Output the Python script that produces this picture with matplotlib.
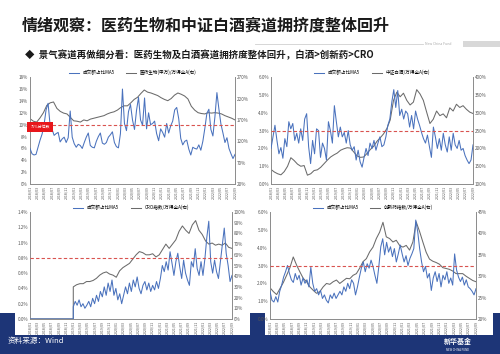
import numpy as np
import matplotlib.pyplot as plt
from matplotlib.patches import Rectangle

plt.rcParams['font.family'] = ['Noto Sans CJK SC', 'DejaVu Sans']
plt.rcParams['axes.unicode_minus'] = False

# ============================================================
# DATA (2018/01 - 2022/09)
# ============================================================

n_months = 56
tick_months = list(range(0, n_months + 1, 2))
tick_labels = [f"{2018 + m // 12}/{m % 12 + 1:02d}" for m in tick_months]

# 医药生物: turnover share MA5 (left, %) and relative index (right, %)
med_share = [6.0, 5.1, 4.9, 5.0, 6.2, 7.4, 8.4, 10.0, 12.5, 13.6, 9.9, 9.2, 8.2, 8.5,
             8.7, 7.1, 7.6, 7.9, 7.0, 7.8, 12.3, 7.9, 6.8, 6.2, 6.7, 6.5, 6.0, 7.0,
             7.9, 8.6, 6.5, 6.2, 6.1, 7.2, 8.0, 8.6, 6.9, 6.7, 7.0, 7.9, 8.3, 8.8,
             7.0, 6.3, 6.1, 8.5, 16.0, 10.2, 9.0, 12.2, 13.4, 10.8, 9.2, 12.4, 14.6,
             10.8, 9.9, 14.5, 9.3, 12.0, 10.0, 10.2, 10.6, 8.5, 7.3, 9.3, 8.7, 7.9,
             10.2, 8.6, 9.8, 10.6, 12.5, 12.9, 11.0, 7.7, 6.6, 7.2, 7.4, 5.9, 4.9,
             6.2, 6.0, 5.9, 6.6, 5.7, 7.2, 9.4, 11.9, 12.6, 9.2, 8.1, 11.3, 15.4,
             12.6, 10.1, 8.6, 7.0, 7.8, 6.0, 5.1, 4.3, 5.0]
med_rel = [173, 167, 165, 175, 187, 204, 210, 212, 197, 190, 186, 184, 176, 168, 167,
           165, 170, 168, 172, 174, 176, 178, 180, 184, 187, 189, 193, 199, 203, 203,
           210, 218, 223, 232, 240, 235, 233, 230, 227, 222, 218, 215, 220, 228, 233,
           230, 226, 219, 202, 193, 187, 185, 184, 187, 186, 187, 186, 184, 180, 177,
           174, 170]

# 中证白酒
liquor_share = [2.0, 2.65, 3.3, 2.45, 1.7, 2.05, 1.45, 2.55, 2.1, 3.5, 3.1, 3.4, 2.45,
                2.85, 2.3, 3.1, 2.45, 3.65, 3.95, 2.1, 1.15, 2.45, 1.7, 3.1, 3.0, 1.5,
                2.3, 2.0, 1.35, 3.5, 3.0, 2.3, 4.4, 3.5, 2.65, 3.2, 2.65, 2.9, 2.3, 3.0,
                2.2, 1.9, 2.1, 1.35, 1.9, 1.25, 0.95, 1.5, 2.0, 1.6, 2.3, 2.0, 2.45,
                1.9, 2.3, 2.65, 2.1, 2.2, 2.65, 3.3, 3.65, 4.6, 5.3, 4.3, 5.25, 3.85,
                4.2, 3.65, 4.1, 3.95, 3.2, 3.85, 3.1, 4.1, 3.65, 3.3, 2.9, 2.55, 2.3,
                2.75, 2.1, 1.5, 3.2, 2.65, 2.0, 2.55, 1.9, 2.85, 2.2, 1.8, 2.65, 1.9,
                2.85, 2.2, 2.0, 2.45, 1.9, 2.0, 1.6, 1.35, 1.15, 1.35, 2.2]
liquor_rel = [141, 134, 129, 126, 135, 150, 174, 166, 156, 150, 152, 125, 129, 138, 140,
              147, 157, 167, 176, 182, 187, 195, 199, 202, 201, 190, 179, 175, 176, 186,
              197, 206, 220, 230, 241, 256, 280, 335, 358, 345, 355, 335, 322, 330, 365,
              353, 335, 302, 270, 282, 305, 292, 297, 286, 314, 305, 324, 315, 320, 310,
              302, 298]

# CRO (index starts 2019/01)
cro_start = 12
cro_share = [0.16, 0.23, 0.18, 0.25, 0.16, 0.20, 0.14, 0.18, 0.23, 0.16, 0.27, 0.20,
             0.31, 0.23, 0.36, 0.29, 0.42, 0.31, 0.47, 0.36, 0.51, 0.31, 0.40, 0.25,
             0.33, 0.20, 0.31, 0.42, 0.33, 0.47, 0.36, 0.51, 0.42, 0.55, 0.40, 0.33,
             0.44, 0.49, 0.38, 0.47, 0.36, 0.44, 0.38, 0.49, 0.40, 0.53, 0.70, 0.62,
             0.75, 0.64, 0.88, 0.73, 0.57, 0.75, 0.86, 0.68, 0.53, 0.77, 0.60, 0.51,
             0.44, 0.75, 0.68, 0.92, 0.66, 0.57, 0.75, 0.57, 0.79, 1.07, 1.28, 0.75,
             0.60, 0.77, 0.62, 0.53, 0.75, 0.97, 1.19, 0.86, 0.70, 0.49, 0.57]
cro_rel = [30, 32, 33, 33, 35, 35, 36, 38, 41, 43, 44, 42, 41, 39, 45, 48, 50, 52, 56,
           60, 63, 62, 60, 60, 61, 58, 60, 65, 70, 66, 70, 74, 82, 87, 83, 80, 88, 92,
           83, 79, 73, 70, 71, 69, 70, 69, 71, 67, 66]

# 创新药
innov_share = [1.55, 1.05, 0.95, 1.25, 0.95, 1.55, 1.9, 2.35, 2.65, 3.0, 2.55, 2.2, 2.05,
               2.55, 2.2, 2.45, 1.9, 2.3, 2.0, 2.2, 1.8, 2.9, 2.0, 1.55, 1.7, 1.35, 1.6,
               1.15, 1.35, 1.05, 0.9, 1.35, 1.15, 1.45, 1.15, 1.35, 1.55, 1.35, 1.8,
               1.55, 2.0, 1.7, 2.2, 2.0, 1.35, 1.8, 2.35, 2.85, 3.2, 2.65, 3.1, 2.85,
               3.3, 2.95, 2.45, 2.0, 2.95, 4.05, 4.5, 3.6, 4.3, 3.75, 4.05, 3.5, 3.95,
               3.2, 3.65, 4.15, 3.65, 3.2, 3.55, 3.0, 3.4, 3.65, 3.95, 5.55, 4.9, 3.95,
               3.2, 2.65, 2.95, 2.3, 2.55, 1.6, 2.3, 2.65, 2.1, 2.55, 1.8, 2.45, 2.2,
               2.65, 2.0, 2.3, 1.9, 3.65, 2.75, 2.35, 2.1, 2.35, 1.9, 2.2, 1.8, 1.7,
               1.55, 1.35, 1.7]
innov_rel = [27.3, 26.4, 25.7, 27.1, 28.5, 30.2, 32.0, 34.5, 32.6, 31.0, 29.5, 28.7,
             27.5, 26.7, 26.0, 26.4, 27.5, 28.3, 28.1, 28.7, 29.1, 28.3, 28.9, 29.5,
             29.4, 30.2, 30.6, 31.9, 33.4, 34.1, 35.7, 36.8, 38.8, 40.3, 42.6, 39.2,
             38.8, 38.0, 38.4, 37.2, 36.8, 37.2, 36.1, 38.0, 42.7, 40.5, 38.0, 35.6,
             34.0, 33.5, 33.2, 32.8, 32.0, 31.8, 31.6, 31.2, 30.6, 30.6, 30.6, 30.0,
             29.5, 29.0, 28.7]

share_label = "成交额占比MA5"

# ============================================================
# FIGURE / BACKGROUND
# ============================================================

fig = plt.figure(figsize=(5, 3.54), dpi=100)
fig.patch.set_facecolor('white')

fig.patches.append(Rectangle((0, 0), 1, 0.116, transform=fig.transFigure,
                             facecolor='#1d3577', edgecolor='none', zorder=0))
fig.patches.append(Rectangle((0.03, 0.054), 0.47, 0.2, transform=fig.transFigure,
                             facecolor='white', edgecolor='none', zorder=1))
fig.patches.append(Rectangle((0.53, 0.054), 0.456, 0.2, transform=fig.transFigure,
                             facecolor='white', edgecolor='none', zorder=1))

fig.text(0.044, 0.927, "情绪观察：医药生物和中证白酒赛道拥挤度整体回升",
         fontsize=11.5, fontweight='bold', color='#1a1a1a', va='center')
fig.text(0.05, 0.845, "◆  景气赛道再做细分看：医药生物及白酒赛道拥挤度整体回升，白酒>创新药>CRO",
         fontsize=6.8, fontweight='bold', color='#1a1a1a', va='center')
fig.add_artist(plt.Line2D([0.51, 0.845], [0.876, 0.876], color='#d0d0d0', lw=0.6))
fig.text(0.85, 0.876, "New China Fund", fontsize=2.5, color='#aaaaaa', va='center')
fig.patches.append(Rectangle((0.925, 0.868), 0.075, 0.016, transform=fig.transFigure,
                             facecolor='#d8d8d8', edgecolor='none'))

fig.text(0.016, 0.037, "资料来源：Wind", fontsize=5.5, color='white', va='center')
fig.text(0.915, 0.036, "新华基金", fontsize=5, color='white', va='center', ha='center',
         fontweight='bold')
fig.text(0.915, 0.011, "NEW CHINA FUND", fontsize=2, color='white', va='center',
         ha='center')

# ============================================================
# CHARTS
# ============================================================

blue = '#4a72bd'
grey = '#6b6b6b'
red = '#d9534f'

charts = [
    dict(pos=[0.06, 0.480, 0.41, 0.302], share=med_share, rel=med_rel, start=0,
         label2="医药生物(申万)/万得全A(右)", left=(0, 18, 2, "{:.0f}%"),
         right=(20, 270, 50), thresh=10),
    dict(pos=[0.542, 0.480, 0.404, 0.302], share=liquor_share, rel=liquor_rel, start=0,
         label2="中证白酒/万得全A(右)", left=(0, 6, 1, "{:.1f}%"),
         right=(100, 400, 50), thresh=3.0),
    dict(pos=[0.06, 0.099, 0.404, 0.302], share=cro_share, rel=cro_rel, start=cro_start,
         label2="CRO指数/万得全A(右)", left=(0, 1.4, 0.2, "{:.1f}%"),
         right=(0, 100, 10), thresh=0.8),
    dict(pos=[0.54, 0.099, 0.412, 0.302], share=innov_share, rel=innov_rel, start=0,
         label2="创新药指数/万得全A(右)", left=(0, 6, 1, "{:.1f}%"),
         right=(20, 45, 5), thresh=3.0),
]

for c in charts:

    ax = fig.add_axes(c['pos'], zorder=3)
    ax2 = ax.twinx()

    x_share = np.linspace(c['start'], n_months, len(c['share']))
    x_rel = np.linspace(c['start'], n_months, len(c['rel']))
    share = np.array(c['share'])
    rel = np.array(c['rel'])

    if c['start'] > 0:
        # index not yet listed: drawn flat at zero
        x_share = np.concatenate([[0, c['start']], x_share])
        share = np.concatenate([[0, 0], share])
        x_rel = np.concatenate([[0, c['start']], x_rel])
        rel = np.concatenate([[0, 0], rel])

    l1, = ax.plot(x_share, share, color=blue, lw=0.75, zorder=3)
    l2, = ax2.plot(x_rel, rel, color=grey, lw=0.75, zorder=2)
    ax.axhline(c['thresh'], color=red, lw=0.8, ls=(0, (3, 2)), zorder=4)

    lo, hi, step, fmt = c['left']
    ticks = np.arange(lo, hi + step / 2, step)
    ax.set_ylim(lo, hi)
    ax.set_yticks(ticks)
    ax.set_yticklabels([fmt.format(t) for t in ticks])

    rlo, rhi, rstep = c['right']
    rticks = np.arange(rlo, rhi + rstep / 2, rstep)
    ax2.set_ylim(rlo, rhi)
    ax2.set_yticks(rticks)
    ax2.set_yticklabels([f"{t:.0f}%" for t in rticks])

    ax.set_xlim(0, n_months)
    ax.set_xticks(tick_months)
    ax.set_xticklabels(tick_labels, rotation=90)

    for a in (ax, ax2):
        a.tick_params(axis='y', labelsize=3.3, length=0, pad=1.5, colors='#555555')
        a.tick_params(axis='x', labelsize=2.6, length=0, pad=1.5, colors='#555555')
        a.set_facecolor('none')
        a.spines['top'].set_visible(False)
        for side in ('left', 'right', 'bottom'):
            a.spines[side].set_color('#8c8c8c')
            a.spines[side].set_linewidth(0.6)

    ax.set_zorder(ax2.get_zorder() + 1)
    ax.patch.set_visible(False)

    ax.legend([l1, l2], [share_label, c['label2']], loc='lower center',
              bbox_to_anchor=(0.5, 0.99), ncol=2, frameon=False, fontsize=3.3,
              handlelength=2.2, columnspacing=2.5, borderaxespad=0.2)

    if c['thresh'] == 10:
        ax.text(0.002, c['thresh'], "75%分位数", transform=ax.get_yaxis_transform(),
                fontsize=2.8, color='white', va='top', ha='left', zorder=6,
                bbox=dict(boxstyle='square,pad=0.8', facecolor='#e8161b',
                          edgecolor='none'))

fig.savefig("out.png", dpi=100)
